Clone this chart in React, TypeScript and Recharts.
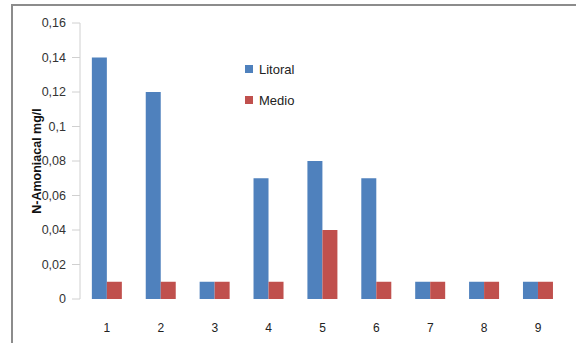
import { BarChart, Bar, XAxis, YAxis } from 'recharts';

const sites = ['1', '2', '3', '4', '5', '6', '7', '8', '9'];
const litoral = [0.14, 0.12, 0.01, 0.07, 0.08, 0.07, 0.01, 0.01, 0.01];
const medio = [0.01, 0.01, 0.01, 0.01, 0.04, 0.01, 0.01, 0.01, 0.01];
const yTicks = [0, 0.02, 0.04, 0.06, 0.08, 0.1, 0.12, 0.14, 0.16];

const BLUE = '#4F81BD';
const RED = '#C0504D';
const FONT = '"Liberation Sans", Arial, sans-serif';

const data = sites.map((s, i) => ({ site: s, litoral: litoral[i], medio: medio[i] }));

const fmt = (v: number) => String(v).replace('.', ',');

const series = [
  { name: 'Litoral', color: BLUE },
  { name: 'Medio', color: RED },
];

// legend sits inside the plot, top-middle
const LegendBox = () => (
  <div style={{ position: 'absolute', left: 245, top: 61, fontFamily: FONT, fontSize: 13, color: '#222' }}>
    {series.map((it, i) => (
      <div key={it.name} style={{ display: 'flex', alignItems: 'center', height: 16, marginBottom: i === 0 ? 15 : 0 }}>
        <span style={{ width: 8, height: 8, background: it.color, marginRight: 6 }} />
        <span>{it.name}</span>
      </div>
    ))}
  </div>
);

export default function App() {
  return (
    <div style={{ position: 'absolute', left: 0, top: 0, width: 576, height: 343, background: '#fff', overflow: 'hidden' }}>
      <div
        style={{
          position: 'absolute',
          left: 11,
          top: 4,
          width: 600,
          height: 400,
          borderLeft: '2px solid #8c8c8c',
          borderTop: '2px solid #8c8c8c',
        }}
      />
      <BarChart
        width={576}
        height={343}
        data={data}
        margin={{ top: 23, right: 11, left: 0, bottom: 14 }}
        barCategoryGap="22%"
        barGap={0}
      >
        <XAxis
          dataKey="site"
          axisLine={false}
          tickLine={false}
          height={30}
          tickMargin={18}
          tick={{ fill: '#222', fontSize: 12, fontFamily: FONT }}
        />
        <YAxis
          width={80}
          domain={[0, 0.16]}
          ticks={yTicks}
          interval={0}
          tickFormatter={fmt}
          axisLine={{ stroke: '#d0d0d0' }}
          tickLine={{ stroke: '#d0d0d0' }}
          tickSize={8}
          tickMargin={6}
          tick={{ fill: '#333', fontSize: 12.5, fontFamily: FONT }}
          label={{
            value: 'N-Amoniacal mg/l',
            angle: -90,
            position: 'insideLeft',
            offset: 37,
            style: { textAnchor: 'middle', fontWeight: 'bold', fontSize: 12.5, fill: '#111', fontFamily: FONT },
          }}
        />
        <Bar dataKey="litoral" name="Litoral" fill={BLUE} isAnimationActive={false} />
        <Bar dataKey="medio" name="Medio" fill={RED} isAnimationActive={false} />
      </BarChart>
      <LegendBox />
    </div>
  );
}
